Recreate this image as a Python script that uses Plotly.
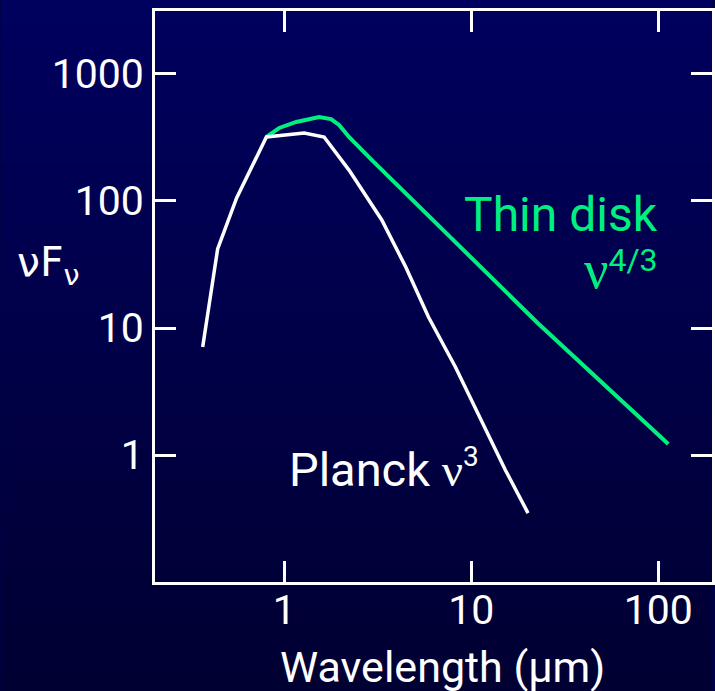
import plotly.graph_objects as go

# ---- data ----
planck_wavelength = [0.366, 0.440, 0.556, 0.652, 0.802, 1.277, 1.632, 2.218, 3.32, 4.46, 5.90, 8.22, 11.3, 15.2, 20.1]
planck_nufnu = [7.09, 41.9, 105.6, 169, 319, 343, 319, 175, 70.9, 30.2, 12.2, 4.93, 1.89, 0.762, 0.349]

disk_wavelength = [0.802, 0.940, 1.158, 1.535, 1.778, 1.962, 2.218, 2.94, 22.7, 113]
disk_nufnu = [319, 376, 419, 459, 442, 397, 319, 210, 10.9, 1.22]

x_tick_values = [1, 10, 100]
x_tick_labels = ["1", "10", "100"]
y_tick_values = [1, 10, 100, 1000]
y_tick_labels = ["1", "10", "100", "1000"]

W, H = 715, 691
L, R, T, B = 155, 0, 11, 109
PW, PH = W - L - R, H - T - B

def px(x):
    return (x - L) / PW

def py(y):
    return (H - B - y) / PH

FONT = "Roboto"
SERIF = "Liberation Serif"
GREEN = "#00F080"

fig = go.Figure()
fig.add_trace(go.Scatter(x=disk_wavelength, y=disk_nufnu, mode="lines",
                         line=dict(color=GREEN, width=4), hoverinfo="skip"))
fig.add_trace(go.Scatter(x=planck_wavelength, y=planck_nufnu, mode="lines",
                         line=dict(color="white", width=3.5), hoverinfo="skip"))

# vertical gradient background
shapes = []
n = 80
top = (0, 0, 94)
bot = (0, 0, 50)
for i in range(n):
    f = i / (n - 1)
    c = tuple(round(top[k] + (bot[k] - top[k]) * f) for k in range(3))
    y0 = H * i / n
    y1 = H * (i + 1) / n + 1
    shapes.append(dict(type="rect", xref="paper", yref="paper",
                       x0=px(0), x1=px(W), y0=py(y1), y1=py(y0),
                       fillcolor="rgb(%d,%d,%d)" % c, line=dict(width=0),
                       layer="below"))

axis_common = dict(type="log", showgrid=False, zeroline=False, showline=True,
                   linecolor="white", linewidth=3, mirror="ticks",
                   ticks="inside", ticklen=21, tickwidth=3, tickcolor="white",
                   tickfont=dict(family=FONT, size=41, color="white"))

fig.update_layout(
    width=W, height=H,
    margin=dict(l=L, r=R, t=T, b=B),
    paper_bgcolor="rgb(0,0,70)",
    plot_bgcolor="rgba(0,0,0,0)",
    showlegend=False,
    shapes=shapes,
    xaxis=dict(range=[-0.6915, 2.287], tickvals=x_tick_values, ticktext=x_tick_labels,
               ticklabelstandoff=-10, **axis_common),
    yaxis=dict(range=[-1.0, 3.496], tickvals=y_tick_values, ticktext=y_tick_labels,
               ticklabelstandoff=0, **axis_common),
    annotations=[
        dict(text="Wavelength (μm)", xref="paper", yref="paper", x=px(444), y=py(667),
             xanchor="center", yanchor="middle", showarrow=False,
             font=dict(family=FONT, size=43, color="white")),
        dict(text="νF<sub>ν</sub>", xref="paper", yref="paper", x=px(14), y=py(265),
             xanchor="left", yanchor="middle", showarrow=False,
             font=dict(family="DejaVu Sans", size=41, color="white")),
        dict(text="Thin disk", xref="paper", yref="paper", x=px(663), y=py(214),
             xanchor="right", yanchor="middle", showarrow=False,
             font=dict(family=FONT, size=48, color=GREEN)),
        dict(text="<span style=\"font-family:'%s';font-size:54px\">ν</span>"
                  "<sup><span style=\"font-size:32px\">4/3</span></sup>" % SERIF,
             xref="paper", yref="paper", x=px(663), y=py(270),
             xanchor="right", yanchor="middle", showarrow=False,
             font=dict(family=FONT, size=40, color=GREEN)),
        dict(text="Planck <span style=\"font-family:'%s'\">ν</span>"
                  "<sup><span style=\"font-size:28px\">3</span></sup>" % SERIF,
             xref="paper", yref="paper", x=px(288), y=py(468),
             xanchor="left", yanchor="middle", showarrow=False,
             font=dict(family=FONT, size=47, color="white")),
    ],
)

fig.write_html("out.html", config={"displayModeBar": False},
               post_script="document.body.style.margin='0px';document.body.style.padding='0px';")
